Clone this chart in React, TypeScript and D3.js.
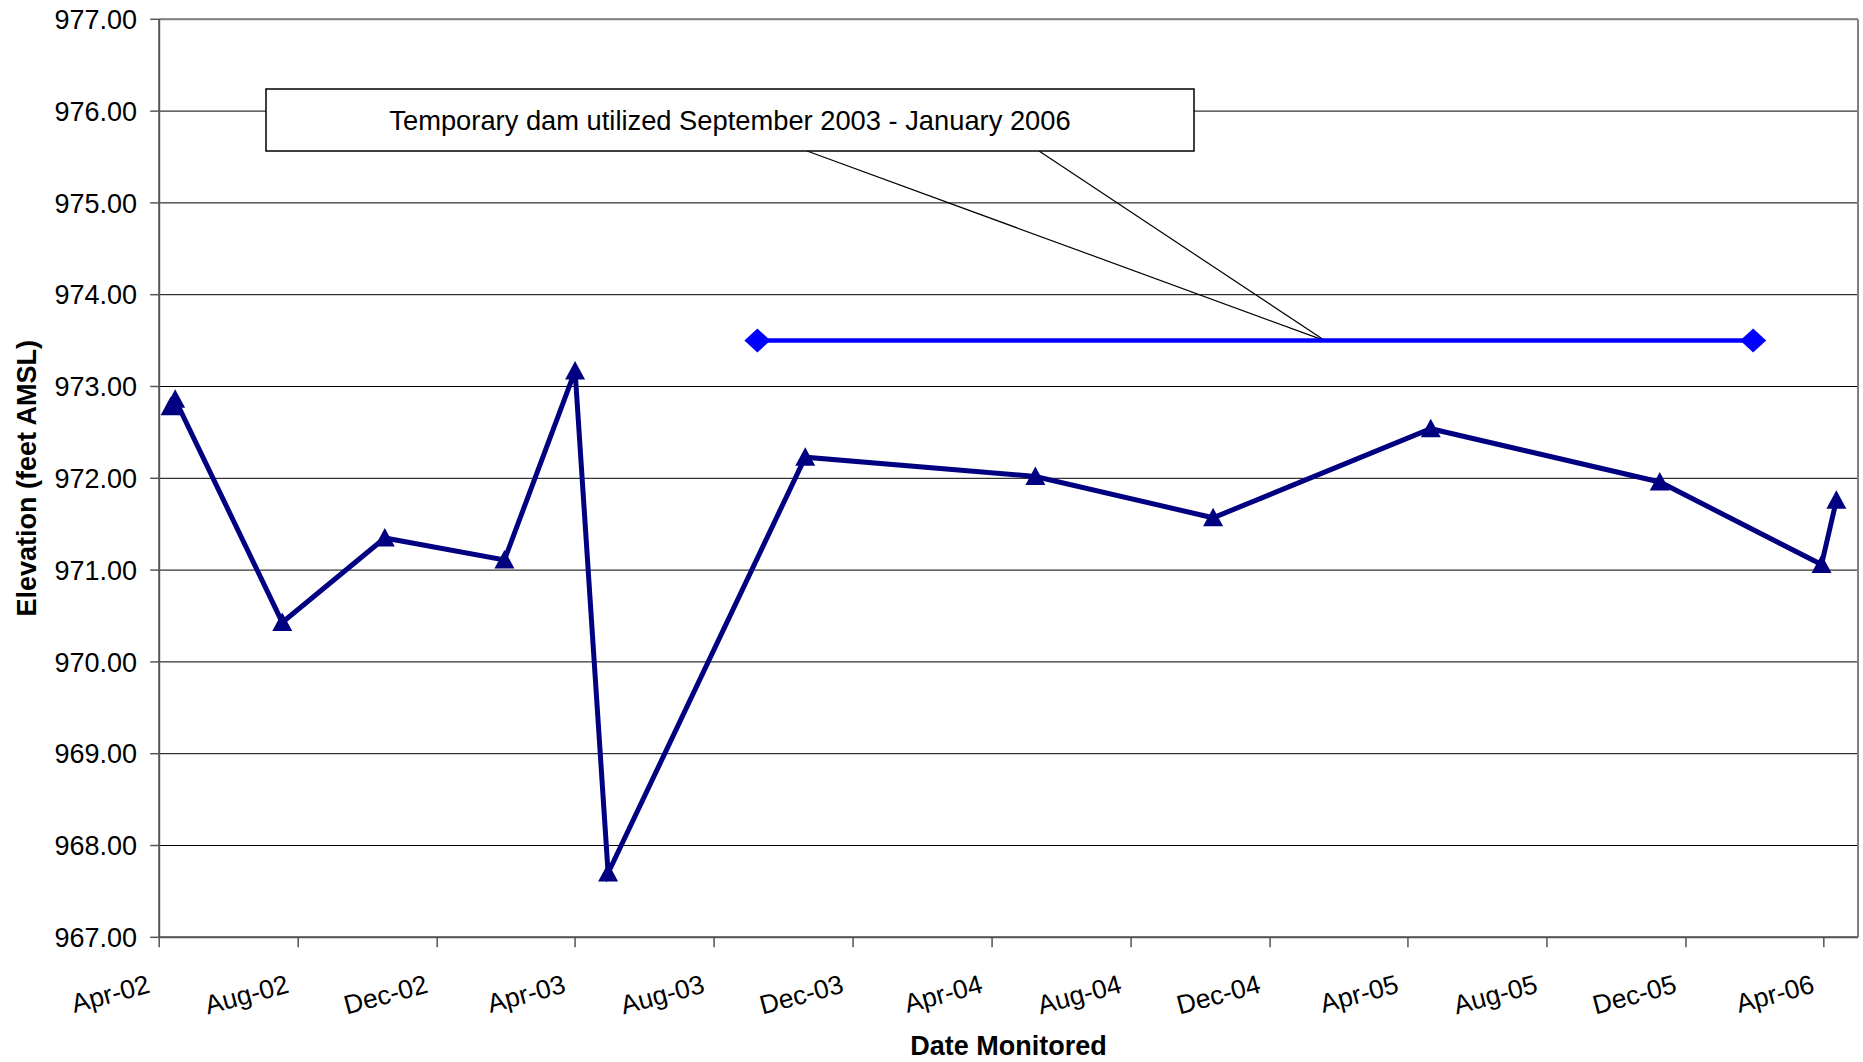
import React from "react";
import * as d3 from "d3";

// Monitoring series (elevation, feet AMSL)
const sampleDates = [
  "2002-04-11", "2002-04-15", "2002-07-18", "2002-10-16", "2003-01-29",
  "2003-04-01", "2003-04-30", "2003-10-20", "2004-05-09", "2004-10-12",
  "2005-04-21", "2005-11-08", "2006-03-30", "2006-04-12",
];
const elevations = [
  972.78, 972.86, 970.43, 971.35, 971.11,
  973.17, 967.7, 972.23, 972.02, 971.57,
  972.54, 971.96, 971.06, 971.76,
];

// Temporary dam elevation
const damDates = ["2003-09-08", "2006-01-29"];
const damElevations = [973.5, 973.5];

const xTickLabels = [
  "Apr-02", "Aug-02", "Dec-02", "Apr-03", "Aug-03", "Dec-03", "Apr-04",
  "Aug-04", "Dec-04", "Apr-05", "Aug-05", "Dec-05", "Apr-06",
];
const yTicks = [967, 968, 969, 970, 971, 972, 973, 974, 975, 976, 977];

const noteText = "Temporary dam utilized September 2003 - January 2006";
const noteTip = { date: "2005-01-18", value: 973.5 };

const W = 1863;
const H = 1062;
const margin = { top: 19.3, right: 5, bottom: 124.7, left: 159.2 };
const font = "Arial, 'Liberation Sans', sans-serif";

export default function App() {
  const parse = d3.utcParse("%Y-%m-%d");
  const parseTick = d3.utcParse("%b-%y");

  const x = d3
    .scaleUtc()
    .domain([new Date(Date.UTC(2002, 3, 1)), new Date(Date.UTC(2006, 4, 1))])
    .range([margin.left, W - margin.right]);
  const y = d3
    .scaleLinear()
    .domain([967, 977])
    .range([H - margin.bottom, margin.top]);

  const pts = sampleDates.map((d, i) => ({ d: parse(d)!, v: elevations[i] }));
  const dam = damDates.map((d, i) => ({ d: parse(d)!, v: damElevations[i] }));

  const line = d3
    .line<{ d: Date; v: number }>()
    .x((p) => x(p.d))
    .y((p) => y(p.v));

  const x0 = margin.left;
  const x1 = W - margin.right;
  const y0 = H - margin.bottom;
  const y1 = margin.top;

  // callout box
  const box = { left: 266, right: 1194, top: 89, bottom: 151 };
  const boxW = box.right - box.left;
  const tipX = x(parse(noteTip.date)!);
  const tipY = y(noteTip.value);

  return (
    <svg
      width={W}
      height={H}
      style={{ position: "absolute", left: 0, top: 0, background: "#fff" }}
      fontFamily={font}
    >
      <rect x={0} y={0} width={W} height={H} fill="#fff" />

      {/* gridlines */}
      {yTicks.map((t) => (
        <line
          key={"g" + t}
          x1={x0}
          x2={x1}
          y1={y(t)}
          y2={y(t)}
          stroke="#000"
          strokeWidth={1}
        />
      ))}

      {/* plot border */}
      <line x1={x0} x2={x1} y1={y1} y2={y1} stroke="#808080" strokeWidth={2} />
      <line x1={x1} x2={x1} y1={y1} y2={y0} stroke="#808080" strokeWidth={2} />
      <line x1={x0} x2={x0} y1={y1} y2={y0} stroke="#555" strokeWidth={2} />
      <line x1={x0} x2={x1} y1={y0} y2={y0} stroke="#555" strokeWidth={2} />

      {/* y ticks */}
      {yTicks.map((t) => (
        <g key={"y" + t}>
          <line x1={x0 - 9} x2={x0} y1={y(t)} y2={y(t)} stroke="#555" strokeWidth={1.5} />
          <text x={137} y={y(t)} dy="0.36em" textAnchor="end" fontSize={27} fill="#000">
            {t.toFixed(2)}
          </text>
        </g>
      ))}

      {/* x ticks */}
      {xTickLabels.map((lab) => {
        const tx = x(parseTick(lab)!);
        return (
          <g key={lab}>
            <line x1={tx} x2={tx} y1={y0} y2={y0 + 10} stroke="#555" strokeWidth={1.5} />
            <text
              transform={`translate(${tx - 8},${y0 + 55}) rotate(-15)`}
              textAnchor="end"
              fontSize={26.5}
              fill="#000"
            >
              {lab}
            </text>
          </g>
        );
      })}

      {/* axis titles */}
      <text
        x={(x0 + x1) / 2}
        y={1055}
        textAnchor="middle"
        fontSize={27}
        fontWeight="bold"
      >
        Date Monitored
      </text>
      <text
        transform={`translate(35.5,${(y0 + y1) / 2}) rotate(-90)`}
        textAnchor="middle"
        fontSize={27}
        fontWeight="bold"
      >
        Elevation (feet AMSL)
      </text>

      {/* callout */}
      <line x1={box.left + boxW * 0.583} y1={box.bottom} x2={tipX} y2={tipY} stroke="#000" strokeWidth={1.2} />
      <line x1={box.left + boxW * 0.833} y1={box.bottom} x2={tipX} y2={tipY} stroke="#000" strokeWidth={1.2} />
      <rect
        x={box.left}
        y={box.top}
        width={boxW}
        height={box.bottom - box.top}
        fill="#fff"
        stroke="#000"
        strokeWidth={1.5}
      />
      <text
        x={(box.left + box.right) / 2}
        y={(box.top + box.bottom) / 2}
        dy="0.36em"
        textAnchor="middle"
        fontSize={27.3}
      >
        {noteText}
      </text>

      {/* dam series */}
      <path d={line(dam) ?? ""} fill="none" stroke="#0000FF" strokeWidth={4.5} />
      {dam.map((p, i) => (
        <path
          key={"dm" + i}
          transform={`translate(${x(p.d)},${y(p.v)})`}
          d="M0,-12L13,0L0,12L-13,0Z"
          fill="#0000FF"
        />
      ))}

      {/* elevation series */}
      <path
        d={line(pts) ?? ""}
        fill="none"
        stroke="#000080"
        strokeWidth={5}
        strokeLinejoin="miter"
      />
      {pts.map((p, i) => (
        <path
          key={"m" + i}
          transform={`translate(${x(p.d)},${y(p.v)})`}
          d="M0,-10L10,8.5L-10,8.5Z"
          fill="#000080"
        />
      ))}
    </svg>
  );
}
